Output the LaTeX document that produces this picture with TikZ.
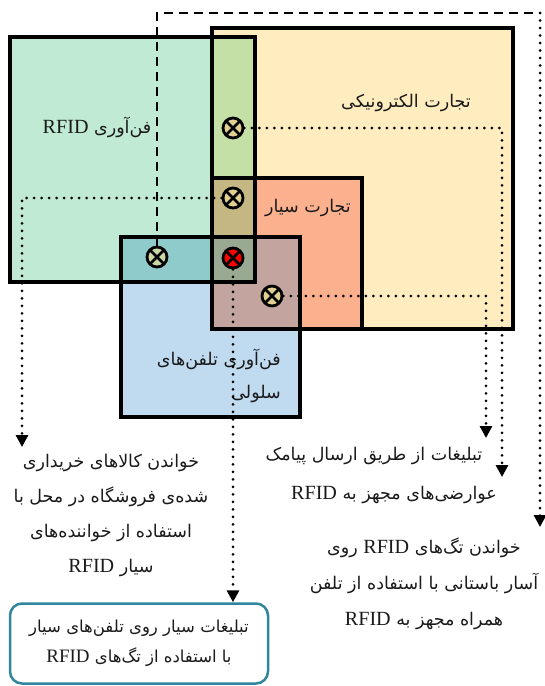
\documentclass[tikz,border=0pt]{standalone}
\usepackage{fontspec}
\usetikzlibrary{arrows.meta}
\TeXXeTstate=1
\newfontfamily\fa[Script=Arabic]{DejaVu Sans}
\newfontfamily\rf[Scale=1.15]{Liberation Serif}
\newcommand\rfid{\beginL{\rf RFID}\endL}
\newcommand\zw{^^^^200c}

\definecolor{cY}{HTML}{FFEDC0}
\definecolor{cR}{HTML}{FBB08E}
\definecolor{cG}{HTML}{C0EAD4}
\definecolor{cB}{HTML}{C0DAF0}
\definecolor{cGY}{HTML}{C5E0A6}
\definecolor{cGR}{HTML}{C4B784}
\definecolor{cBG}{HTML}{90CBCB}
\definecolor{cBR}{HTML}{C3A49F}
\definecolor{cBGR}{HTML}{9AAA92}
\definecolor{tanX}{HTML}{E2CF92}
\definecolor{paleX}{HTML}{CAD9A2}
\definecolor{frameC}{HTML}{31859C}
\definecolor{ink}{HTML}{1A1A1A}

\tikzset{
  setbox/.style={draw=black, line width=3.2pt},
  xcirc/.style={circle, draw=black, line width=2.8pt, minimum size=20pt,
    inner sep=0pt, fill=#1,
    path picture={\draw[line width=2.6pt]
      (path picture bounding box.north west) -- (path picture bounding box.south east)
      (path picture bounding box.north east) -- (path picture bounding box.south west);}},
  dotline/.style={line width=3pt, dash pattern=on 0pt off 7.5pt, line cap=round},
  dashline/.style={line width=2.5pt, dash pattern=on 9pt off 6pt},
  tip/.style={-{Triangle[width=12pt,length=12pt]}},
  txt/.style={text=ink, align=center, inner sep=0pt},
  big/.style={font=\fontsize{17.5}{#1}\selectfont\fa},
  big/.default=20,
}

\begin{document}
\begin{tikzpicture}[x=1pt, y=-1pt]
\useasboundingbox (0,0) rectangle (545,686);

% region fills
\fill[cY]  (212,28)  rectangle (513,329);
\fill[cR]  (212,178) rectangle (362,329);
\fill[cG]  (10,37)   rectangle (255,282);
\fill[cGY] (212,37)  rectangle (255,282);
\fill[cGR] (212,178) rectangle (255,282);
\fill[cB]  (121,237) rectangle (300,417);
\fill[cBG] (121,237) rectangle (255,282);
\fill[cBR] (212,237) rectangle (300,329);
\fill[cBGR](212,237) rectangle (255,282);

% set outlines
\draw[setbox] (212,28)  rectangle (513,329);
\draw[setbox] (212,178) rectangle (362,329);
\draw[setbox] (10,37)   rectangle (255,282);
\draw[setbox] (121,237) rectangle (300,417);

% set labels
\node[txt, big] (le) at (406,103) {\beginR تجارت الکترونیکی\endR};
\node[txt, big] (lr) at (97,127) {\beginR فن\zw آوری \rfid\endR};
\node[txt, big] (lm) at (308,208) {\beginR تجارت سیار\endR};
\node[txt, align=right, anchor=east, big=33] (lc) at (281,376)
  {\beginR فن\zw آوری تلفن\zw های\endR\\ \beginR سلولی\endR};

% intersection markers
\node[xcirc=tanX]  (c1) at (233,128) {};
\node[xcirc=tanX]  (c2) at (233,198) {};
\node[xcirc=paleX] (c3) at (157,257) {};
\node[xcirc=red]   (c4) at (233,258) {};
\node[xcirc=tanX]  (c5) at (272,296) {};

% arrow ends
\coordinate (tA) at (502,477);
\coordinate (tB) at (22,447);
\coordinate (tC) at (486,438);
\coordinate (k1) at (540,13);
\coordinate (tD) at (540,527);

% application boxes and labels
\node[txt, big=35] (ta) at (111,515)
  {\beginR خواندن کالاهای خریداری\endR\\
   \beginR شده\zw ی فروشگاه در محل با\endR\\
   \beginR استفاده از خواننده\zw های\endR\\
   \beginR سیار \rfid\endR};
\node[txt, big] (tb) at (374,456) {\beginR تبلیغات از طریق ارسال پیامک\endR};
\node[txt, big] (tc) at (394,495) {\beginR عوارضی\zw های مجهز به \rfid\endR};
\node[txt, big=36] (td) at (424,584)
  {\beginR خواندن تگ\zw های \rfid{} روی\endR\\
   \beginR آسار باستانی با استفاده از تلفن\endR\\
   \beginR همراه مجهز به \rfid\endR};
\node[txt, draw=frameC, line width=2.5pt, rounded corners=12pt,
      minimum width=258pt, minimum height=80pt,
      font=\fontsize{16.5}{30}\selectfont\fa] (box) at (139,643.5)
  {\beginR تبلیغات سیار روی تلفن\zw های سیار\endR\\
   \beginR با استفاده از تگ\zw های \rfid\endR};

% connectors
\draw[dotline, tip] (c1.east) -| (tA);
\draw[dotline, tip] (c2.west) -| (tB);
\draw[dotline, tip] (c5.east) -| (tC);
\draw[dashline] (c3.north) |- (k1);
\draw[dotline, tip] (k1) -- (tD);
\draw[dotline, tip] (c4.south) -- (c4.south |- box.north);
\end{tikzpicture}
\end{document}
